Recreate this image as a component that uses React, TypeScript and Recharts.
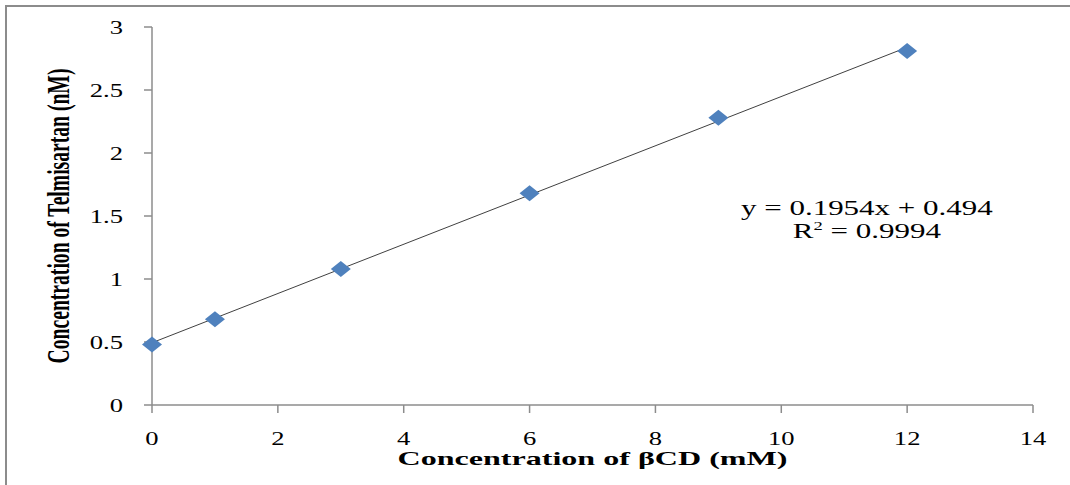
import React from "react";
import { ScatterChart, Scatter, XAxis, YAxis, ReferenceDot } from "recharts";

const xValues = [0, 1, 3, 6, 9, 12];
const yValues = [0.48, 0.68, 1.08, 1.68, 2.28, 2.81];
const trendX = [0, 12];
const trendY = [0.494, 2.839];
const xTicks = [0, 2, 4, 6, 8, 10, 12, 14];
const yTicks = [0, 0.5, 1, 1.5, 2, 2.5, 3];
const equationText = "y = 0.1954x + 0.494";
const r2Value = "0.9994";
const xLabel = "Concentration of βCD (mM)";
const yLabel = "Concentration of Telmisartan (nM)";

const points = xValues.map((x, i) => ({ x, y: yValues[i] }));
const trend = trendX.map((x, i) => ({ x, y: trendY[i] }));

const FONT = "'Liberation Serif', 'Times New Roman', serif";
const AXIS = "#8c8c8c";

const Diamond = (props: any) => {
  const { cx, cy } = props;
  if (cx == null || cy == null) return null;
  const w = 10, h = 8;
  return (
    <polygon
      points={`${cx - w},${cy} ${cx},${cy - h} ${cx + w},${cy} ${cx},${cy + h}`}
      fill="#4F81BD"
    />
  );
};

const NoShape = () => <g />;

const XTick = (props: any) => {
  const { x, y, payload } = props;
  return (
    <g transform={`translate(${x},${y})`}>
      <text
        transform="scale(1.4,1)"
        textAnchor="middle"
        dy="0.71em"
        fontFamily={FONT}
        fontSize={19}
        fill="#000"
      >
        {payload.value}
      </text>
    </g>
  );
};

const YTick = (props: any) => {
  const { x, y, payload } = props;
  return (
    <g transform={`translate(${x},${y})`}>
      <text
        transform="scale(1.4,1)"
        textAnchor="end"
        dy="0.35em"
        fontFamily={FONT}
        fontSize={19}
        fill="#000"
      >
        {payload.value}
      </text>
    </g>
  );
};

const XLabel = (props: any) => {
  const { viewBox } = props;
  const cx = viewBox.x + viewBox.width / 2;
  return (
    <text
      x={cx}
      y={465}
      textAnchor="middle"
      fontFamily={FONT}
      fontWeight="bold"
      fontSize={19}
      textLength={390}
      lengthAdjust="spacingAndGlyphs"
      fill="#000"
    >
      {xLabel}
    </text>
  );
};

const YLabel = (props: any) => {
  const { viewBox } = props;
  const cy = viewBox.y + viewBox.height / 2;
  const x = 69;
  return (
    <g transform={`translate(${x},${cy}) rotate(-90) scale(0.633,1)`}>
      <text
        x={0}
        y={0}
        textAnchor="middle"
        fontFamily={FONT}
        fontWeight="bold"
        fontSize={31}
        fill="#000"
      >
        {yLabel}
      </text>
    </g>
  );
};

const Equation = (props: any) => {
  const { cx, cy } = props;
  if (cx == null || cy == null) return null;
  return (
    <g transform={`translate(${cx},${cy})`}>
      <g transform="scale(1.55,1)">
        <text x={0} y={0} textAnchor="middle" fontFamily={FONT} fontSize={20} fill="#000">
          {equationText}
        </text>
        <text x={0} y={23} textAnchor="middle" fontFamily={FONT} fontSize={20} fill="#000">
          R<tspan fontSize={12} dy={-8}>2</tspan>
          <tspan dy={8}>{` = ${r2Value}`}</tspan>
        </text>
      </g>
    </g>
  );
};

export default function App() {
  return (
    <div style={{ position: "absolute", left: 0, top: 0, width: 1070, height: 485, background: "#fff" }}>
      <div
        style={{
          position: "absolute",
          left: 5,
          top: 5,
          right: 0,
          bottom: 0,
          borderLeft: `2px solid ${AXIS}`,
          borderTop: `2px solid ${AXIS}`,
        }}
      />
      <div style={{ position: "absolute", left: 0, top: 0 }}>
        <ScatterChart
          width={1070}
          height={485}
          margin={{ top: 27, right: 37, bottom: 0, left: 0 }}
        >
          <XAxis
            type="number"
            dataKey="x"
            domain={[0, 14]}
            ticks={xTicks}
            height={80}
            stroke={AXIS}
            strokeWidth={1.5}
            tickSize={8}
            tickMargin={19}
            tick={<XTick />}
            label={<XLabel />}
          />
          <YAxis
            type="number"
            dataKey="y"
            domain={[0, 3]}
            ticks={yTicks}
            width={152}
            stroke={AXIS}
            strokeWidth={1.5}
            tickSize={8}
            tickMargin={21}
            tick={<YTick />}
            label={<YLabel />}
          />
          <Scatter
            data={trend}
            line={{ stroke: "#404040", strokeWidth: 1 }}
            lineType="joint"
            shape={<NoShape />}
            isAnimationActive={false}
          />
          <Scatter data={points} shape={<Diamond />} isAnimationActive={false} />
          <ReferenceDot x={11.36} y={1.51} r={0} shape={<Equation />} ifOverflow="visible" />
        </ScatterChart>
      </div>
    </div>
  );
}
